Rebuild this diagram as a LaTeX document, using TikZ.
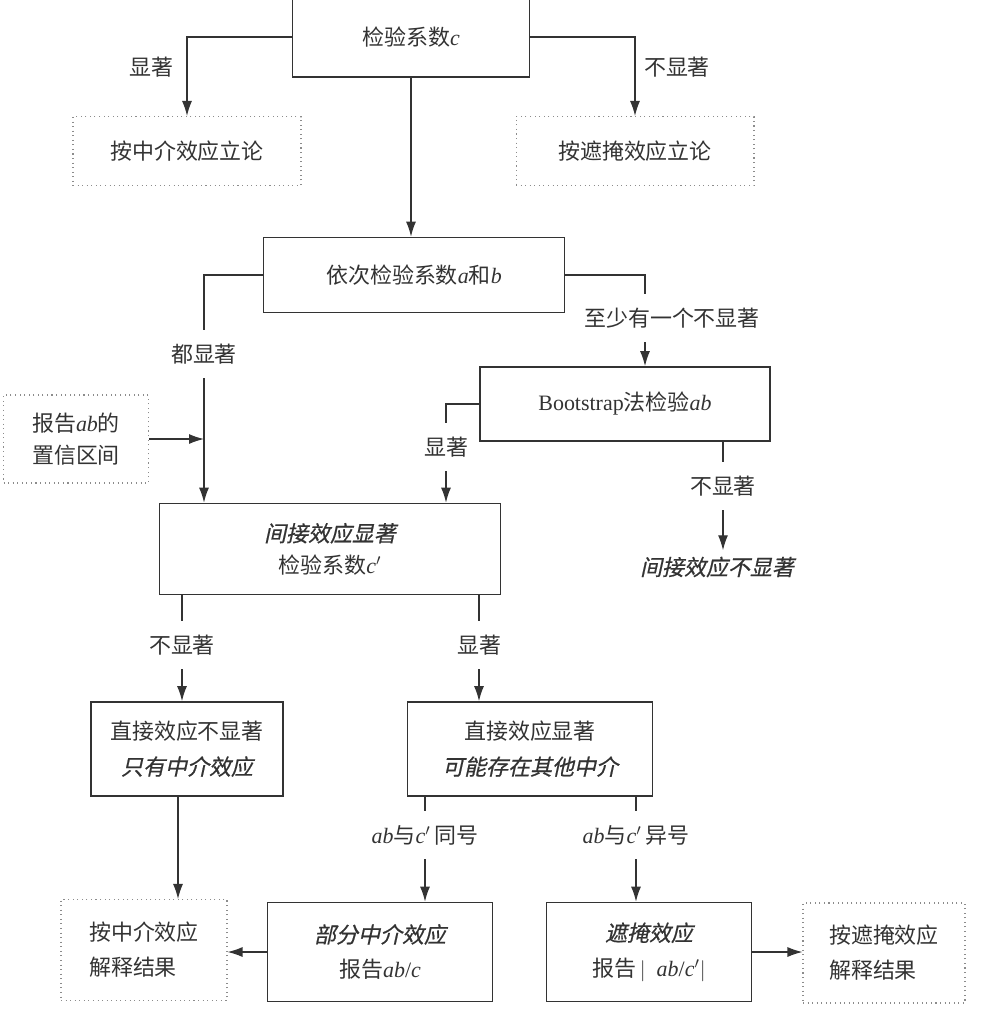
\documentclass[tikz,border=0pt]{standalone}
\usepackage{fontspec}
\setmainfont{Liberation Serif}
\newfontfamily\cjk{Noto Sans CJK SC}
\newfontfamily\cjkit[FakeSlant=0.22,FakeBold=0.6]{Noto Sans CJK SC}
\usetikzlibrary{arrows.meta, calc}
\newcommand{\zh}[1]{{\cjk #1}}
\newcommand{\zhit}[1]{{\cjkit #1}}

\begin{document}
\begin{tikzpicture}[x=0.02cm, y=-0.02cm, color=black!80, line width=0.7pt,
		font=\fontsize{12.5}{20}\selectfont,
		box/.style={draw, line width=1pt, align=center, inner sep=0pt},
		dotbox/.style={draw=black!45, dotted, line width=0.6pt, align=left, inner sep=0pt},
		lab/.style={minimum height=0.94cm, inner sep=0pt},
		arr/.style={-{Latex[length=3mm,width=2mm]}}]
				  \useasboundingbox (0,0) rectangle (992,1018);
				  \node[box, minimum width=4.74cm, minimum height=1.6cm] (testc) at (411,37) {\zh{检验系数}\textit{c}};
				  \node[dotbox, minimum width=4.56cm, minimum height=1.38cm] (medL) at (187,151) {\zh{按中介效应立论}};
				  \node[dotbox, minimum width=4.76cm, minimum height=1.38cm] (maskL) at (635,151) {\zh{按遮掩效应立论}};
				  \node (lbSig1) at (151,67) {\zh{显著}};
				  \node (lbNsig1) at (677,67) {\zh{不显著}};
				  \node[box, minimum width=6.02cm, minimum height=1.5cm] (seq) at (414,275) {\zh{依次检验系数}\textit{a}\zh{和}\textit{b}};
				  \node[lab] (lbAll) at (204,354) {\zh{都显著}};
				  \node[lab] (lbSome) at (672,318) {\zh{至少有一个不显著}};
				  \node[box, minimum width=5.8cm, minimum height=1.48cm] (boot) at (625,404) {Bootstrap\zh{法检验}\textit{ab}};
				  \node[lab] (lbSig2) at (446,447) {\zh{显著}};
				  \node[lab] (lbNsig2) at (723,486) {\zh{不显著}};
				  \node (noInd) at (717,567) {\zhit{间接效应不显著}};
				  \node[dotbox, align=center, minimum width=2.9cm, minimum height=1.76cm] (rep) at (76,439) {\zh{报告}\textit{ab}\zh{的}\\[-2pt]\zh{置信区间}};
				  \node[box, minimum width=6.82cm, minimum height=1.82cm] (ind) at (330,549) {\zhit{间接效应显著}\\[-2pt]\zh{检验系数}\textit{c}$'$};
				  \node[lab] (lbNsig3) at (182,645) {\zh{不显著}};
				  \node[lab] (lbSig3) at (479,645) {\zh{显著}};
				  \node[box, minimum width=3.84cm, minimum height=1.88cm] (dirN) at (187,749) {\zh{直接效应不显著}\\\zhit{只有中介效应}};
				  \node[box, minimum width=4.9cm, minimum height=1.88cm] (dirS) at (530,749) {\zh{直接效应显著}\\\zhit{可能存在其他中介}};
				  \node[lab] (lbSame) at (425,835) {\textit{ab}\zh{与}\textit{c}$'$\,\zh{同号}};
				  \node[lab] (lbDiff) at (636,835) {\textit{ab}\zh{与}\textit{c}$'$\,\zh{异号}};
				  \node[dotbox, minimum width=3.32cm, minimum height=2.02cm] (medRes) at (144,950) {\zh{按中介效应}\\\zh{解释结果}};
				  \node[box, minimum width=4.5cm, minimum height=1.98cm] (part) at (380,952) {\zhit{部分中介效应}\\\zh{报告}\textit{ab}/\textit{c}};
				  \node[box, minimum width=4.1cm, minimum height=1.98cm] (mask) at (649,952) {\zhit{遮掩效应}\\\zh{报告}\,$|$\enspace\textit{ab}/\textit{c}$'|$};
				  \node[dotbox, minimum width=3.24cm, minimum height=2cm] (maskRes) at (884,953) {\zh{按遮掩效应}\\\zh{解释结果}};
				  \draw[arr] (testc.west) -| (medL.north);
				  \draw[arr] (testc.east) -| (maskL.north);
				  \draw[arr] (testc.south) -- (testc.south |- seq.north);
				  \draw (seq.west) -| (lbAll.north);
				  \draw[arr] (lbAll.south) -- (lbAll.south |- ind.north);
				  \draw (seq.east) -| ([xshift=-0.54cm]lbSome.north);
				  \draw[arr] ([xshift=-0.54cm]lbSome.south) -- ([xshift=-0.54cm]lbSome.south |- boot.north);
				  \draw (boot.west) -| (lbSig2.north);
				  \draw[arr] (lbSig2.south) -- (lbSig2.south |- ind.north);
				  \draw (lbNsig2.north |- boot.south) -- (lbNsig2.north);
				  \draw[arr] (lbNsig2.south) -- (lbNsig2.south |- noInd.north);
				  \draw[arr] (rep.east) -- (rep.east -| lbAll.south);
				  \draw (lbNsig3.north |- ind.south) -- (lbNsig3.north);
				  \draw[arr] (lbNsig3.south) -- (lbNsig3.south |- dirN.north);
				  \draw (lbSig3.north |- ind.south) -- (lbSig3.north);
				  \draw[arr] (lbSig3.south) -- (lbSig3.south |- dirS.north);
				  \draw[arr] ([xshift=-0.18cm]dirN.south) -- ([xshift=-0.18cm]dirN.south |- medRes.north);
				  \draw (lbSame.north |- dirS.south) -- (lbSame.north);
				  \draw[arr] (lbSame.south) -- (lbSame.south |- part.north);
				  \draw (lbDiff.north |- dirS.south) -- (lbDiff.north);
				  \draw[arr] (lbDiff.south) -- (lbDiff.south |- mask.north);
				  \draw[arr] (part.west) -- (part.west -| medRes.east);
				  \draw[arr] (mask.east) -- (mask.east -| maskRes.west);
				\end{tikzpicture}
\end{document}
